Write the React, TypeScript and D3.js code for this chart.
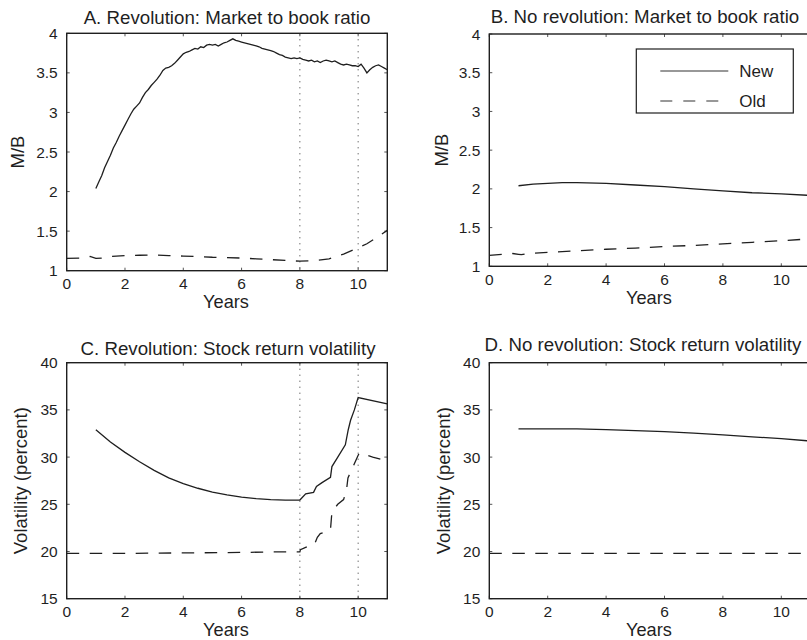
import React from "react";
import * as d3 from "d3";

const FONT = "'Liberation Sans', Arial, Helvetica, sans-serif";
const INK = "#1f1f1f";

// axis ticks
const yearTicks = [0, 2, 4, 6, 8, 10];
const mbTicks = [1, 1.5, 2, 2.5, 3, 3.5, 4];
const volTicks = [15, 20, 25, 30, 35, 40];
const eventYears = [8, 10];

// A. Revolution: market to book
const revNewMBYears = [
  1.0, 1.1, 1.2, 1.3, 1.4, 1.5, 1.6, 1.7, 1.8, 1.9, 2.0, 2.1, 2.2, 2.3, 2.4, 2.5, 2.6, 2.7, 2.8, 2.9,
  3.0, 3.1, 3.2, 3.3, 3.4, 3.5, 3.6, 3.7, 3.8, 3.9, 4.0, 4.1, 4.2, 4.3, 4.4, 4.5, 4.6, 4.7, 4.8, 4.9,
  5.0, 5.1, 5.2, 5.3, 5.4, 5.5, 5.6, 5.7, 5.8, 5.9, 6.0, 6.1, 6.2, 6.3, 6.4, 6.5, 6.6, 6.7, 6.8, 6.9,
  7.0, 7.1, 7.2, 7.3, 7.4, 7.5, 7.6, 7.7, 7.8, 7.9, 8.0, 8.1, 8.2, 8.3, 8.4, 8.5, 8.6, 8.7, 8.8, 8.9,
  9.0, 9.1, 9.2, 9.3, 9.4, 9.5, 9.6, 9.7, 9.8, 9.9, 10.0, 10.1, 10.2, 10.3, 10.4, 10.5, 10.6, 10.7,
  10.8, 10.9, 11.0,
];
const revNewMB = [
  2.04, 2.12, 2.2, 2.3, 2.38, 2.46, 2.55, 2.62, 2.7, 2.77, 2.84, 2.91, 2.98, 3.04, 3.08, 3.12, 3.19, 3.25, 3.29, 3.34,
  3.38, 3.42, 3.47, 3.53, 3.56, 3.57, 3.59, 3.62, 3.66, 3.7, 3.74, 3.76, 3.77, 3.79, 3.81, 3.8, 3.83, 3.82, 3.85, 3.86,
  3.85, 3.86, 3.84, 3.86, 3.88, 3.89, 3.91, 3.93, 3.91, 3.9, 3.89, 3.88, 3.87, 3.86, 3.85, 3.84, 3.83, 3.81, 3.8, 3.79,
  3.78, 3.77, 3.75, 3.73, 3.72, 3.7, 3.69, 3.68, 3.69, 3.68, 3.69, 3.67, 3.66, 3.65, 3.66, 3.64, 3.65, 3.63, 3.65, 3.66,
  3.65, 3.64, 3.65, 3.63, 3.61, 3.6, 3.61, 3.6, 3.59, 3.59, 3.58, 3.61, 3.56, 3.5, 3.54, 3.57, 3.59, 3.6,
  3.58, 3.56, 3.54,
];
const revOldMBYears = [0, 0.5, 0.8, 1.0, 1.2, 1.5, 2, 2.5, 3, 3.5, 4, 4.5, 5, 5.5, 6, 6.5, 7, 7.5, 8, 8.5, 9, 9.5, 10, 10.3, 10.6, 11];
const revOldMB = [1.155, 1.16, 1.18, 1.155, 1.16, 1.18, 1.19, 1.195, 1.2, 1.19, 1.185, 1.18, 1.17, 1.165, 1.16, 1.15, 1.14, 1.13, 1.12, 1.125, 1.15, 1.21, 1.29, 1.34, 1.41, 1.51];

// B. No revolution: market to book
const noRevNewMBYears = [1, 1.5, 2, 2.5, 3, 4, 5, 6, 7, 8, 9, 10, 11];
const noRevNewMB = [2.04, 2.06, 2.07, 2.08, 2.08, 2.07, 2.05, 2.03, 2.0, 1.975, 1.95, 1.935, 1.915];
const noRevOldMBYears = [0, 0.8, 1.0, 1.1, 1.3, 2, 3, 4, 5, 6, 7, 8, 9, 10, 11];
const noRevOldMB = [1.14, 1.165, 1.155, 1.15, 1.165, 1.18, 1.2, 1.22, 1.235, 1.255, 1.27, 1.29, 1.31, 1.33, 1.355];

// C. Revolution: volatility
const revNewVolYears = [
  1, 1.5, 2, 2.5, 3, 3.5, 4, 4.5, 5, 5.5, 6, 6.5, 7, 7.5, 8, 8.2, 8.47, 8.57, 8.76, 9.05, 9.1, 9.28,
  9.56, 9.66, 9.74, 9.87, 10, 11,
];
const revNewVol = [
  32.9, 31.6, 30.5, 29.5, 28.6, 27.8, 27.2, 26.7, 26.3, 26.0, 25.75, 25.6, 25.5, 25.45, 25.45, 26.1, 26.26, 26.9, 27.3, 27.85, 29.0, 29.9,
  31.3, 32.9, 33.9, 35.0, 36.3, 35.65,
];
const revOldVolYears = [0, 2, 4, 6, 7, 8, 8.02, 8.4, 8.5, 8.6, 8.7, 9.0, 9.05, 9.1, 9.3, 9.5, 9.6, 9.65, 9.8, 10.0, 10.05, 10.5, 11];
const revOldVol = [19.8, 19.8, 19.85, 19.9, 19.95, 19.95, 20.2, 20.7, 20.75, 21.5, 21.9, 22.2, 22.3, 24.2, 25.0, 25.5, 26.5, 27.8, 28.8, 30.2, 30.45, 30.0, 29.6];

// D. No revolution: volatility
const noRevNewVolYears = [1, 2, 3, 4, 5, 6, 7, 8, 9, 10, 11];
const noRevNewVol = [33.0, 33.0, 33.0, 32.9, 32.8, 32.7, 32.55, 32.35, 32.15, 31.95, 31.7];
const noRevOldVolYears = [0, 11];
const noRevOldVol = [19.8, 19.8];

const legendLabels = ["New", "Old"];

type Series = { years: number[]; values: number[]; dashed: boolean };
type PanelCfg = {
  title: string;
  titleX: number;
  titleY: number;
  left: number;
  right: number;
  top: number;
  bottom: number;
  yDomain: [number, number];
  yTicks: number[];
  ylabel: string;
  ylabelGap: number;
  events: number[];
  legend: boolean;
  series: Series[];
};

const panels: PanelCfg[] = [
  {
    title: "A. Revolution: Market to book ratio",
    titleX: 227, titleY: 24,
    left: 66.7, right: 387.3, top: 33.3, bottom: 270.7,
    yDomain: [1, 4], yTicks: mbTicks, ylabel: "M/B", ylabelGap: 43,
    events: eventYears, legend: false,
    series: [
      { years: revNewMBYears, values: revNewMB, dashed: false },
      { years: revOldMBYears, values: revOldMB, dashed: true },
    ],
  },
  {
    title: "B. No revolution: Market to book ratio",
    titleX: 645, titleY: 23,
    left: 489.3, right: 810.5, top: 34, bottom: 266.3,
    yDomain: [1, 4], yTicks: mbTicks, ylabel: "M/B", ylabelGap: 41,
    events: [], legend: true,
    series: [
      { years: noRevNewMBYears, values: noRevNewMB, dashed: false },
      { years: noRevOldMBYears, values: noRevOldMB, dashed: true },
    ],
  },
  {
    title: "C. Revolution: Stock return volatility",
    titleX: 228, titleY: 355,
    left: 66.7, right: 387.3, top: 362.7, bottom: 598.7,
    yDomain: [15, 40], yTicks: volTicks, ylabel: "Volatility (percent)", ylabelGap: 39.5,
    events: eventYears, legend: false,
    series: [
      { years: revNewVolYears, values: revNewVol, dashed: false },
      { years: revOldVolYears, values: revOldVol, dashed: true },
    ],
  },
  {
    title: "D. No revolution: Stock return volatility",
    titleX: 643, titleY: 351,
    left: 489.3, right: 810.5, top: 362.7, bottom: 598.7,
    yDomain: [15, 40], yTicks: volTicks, ylabel: "Volatility (percent)", ylabelGap: 39.5,
    events: [], legend: false,
    series: [
      { years: noRevNewVolYears, values: noRevNewVol, dashed: false },
      { years: noRevOldVolYears, values: noRevOldVol, dashed: true },
    ],
  },
];

const DASH = "12.5 10.5";
const TICK = 3;

function Panel({ cfg }: { cfg: PanelCfg }) {
  const x = d3.scaleLinear().domain([0, 11]).range([cfg.left, cfg.right]);
  const y = d3.scaleLinear().domain(cfg.yDomain).range([cfg.bottom, cfg.top]);

  const pathFor = (s: Series) => {
    const pts: [number, number][] = s.years.map((yr, i) => [yr, s.values[i]]);
    return d3
      .line<[number, number]>()
      .x((d) => x(d[0]))
      .y((d) => y(d[1]))(pts) as string;
  };

  const midY = (cfg.top + cfg.bottom) / 2;
  const midX = (cfg.left + cfg.right) / 2;

  return (
    <g fontFamily={FONT} fill={INK}>
      <text x={cfg.titleX} y={cfg.titleY} textAnchor="middle" fontSize={18.7}>
        {cfg.title}
      </text>

      {/* ticks point inward on all four sides */}
      {yearTicks.map((t) => (
        <g key={"xt" + t} stroke="#555" strokeWidth={1}>
          <line x1={x(t)} x2={x(t)} y1={cfg.bottom} y2={cfg.bottom - TICK} />
          <line x1={x(t)} x2={x(t)} y1={cfg.top} y2={cfg.top + TICK} />
        </g>
      ))}
      {cfg.yTicks.map((t) => (
        <g key={"yt" + t} stroke="#555" strokeWidth={1}>
          <line x1={cfg.left} x2={cfg.left + TICK} y1={y(t)} y2={y(t)} />
          <line x1={cfg.right} x2={cfg.right - TICK} y1={y(t)} y2={y(t)} />
        </g>
      ))}

      {yearTicks.map((t) => (
        <text key={"xl" + t} x={x(t)} y={cfg.bottom + 18.5} textAnchor="middle" fontSize={15.5}>
          {t}
        </text>
      ))}
      {cfg.yTicks.map((t) => (
        <text
          key={"yl" + t}
          x={cfg.left - 9}
          y={y(t)}
          dy="0.36em"
          textAnchor="end"
          fontSize={15.5}
        >
          {t}
        </text>
      ))}

      <text x={midX - 1} y={cfg.bottom + 37.3} textAnchor="middle" fontSize={18.2}>
        Years
      </text>
      <text
        transform={`translate(${cfg.left - cfg.ylabelGap},${midY}) rotate(-90)`}
        textAnchor="middle"
        fontSize={18.5}
      >
        {cfg.ylabel}
      </text>

      {cfg.events.map((e) => (
        <line
          key={"ev" + e}
          x1={x(e)}
          x2={x(e)}
          y1={cfg.top}
          y2={cfg.bottom}
          stroke="#333"
          strokeWidth={1}
          strokeDasharray="1 5"
        />
      ))}

      {cfg.series.map((s, i) => (
        <path
          key={"s" + i}
          d={pathFor(s)}
          fill="none"
          stroke={INK}
          strokeWidth={1.3}
          strokeDasharray={s.dashed ? DASH : undefined}
        />
      ))}

      <rect
        x={cfg.left}
        y={cfg.top}
        width={cfg.right - cfg.left}
        height={cfg.bottom - cfg.top}
        fill="none"
        stroke={INK}
        strokeWidth={1.4}
      />

      {cfg.legend && (
        <g>
          <rect
            x={cfg.left + 147}
            y={cfg.top + 15}
            width={157}
            height={64}
            fill="#fff"
            stroke={INK}
            strokeWidth={1.2}
          />
          {legendLabels.map((lab, i) => (
            <g key={lab}>
              <line
                x1={cfg.left + 171}
                x2={cfg.left + 239}
                y1={cfg.top + 37 + i * 30}
                y2={cfg.top + 37 + i * 30}
                stroke="#333"
                strokeWidth={1.2}
                strokeDasharray={i === 1 ? "12 11" : undefined}
              />
              <text x={cfg.left + 250} y={cfg.top + 37 + i * 30} dy="0.36em" fontSize={17}>
                {lab}
              </text>
            </g>
          ))}
        </g>
      )}
    </g>
  );
}

export default function App() {
  return (
    <svg
      width={807}
      height={640}
      style={{ position: "absolute", left: 0, top: 0, background: "#fff" }}
    >
      <rect width={807} height={640} fill="#fff" />
      {panels.map((p) => (
        <Panel key={p.title} cfg={p} />
      ))}
    </svg>
  );
}
